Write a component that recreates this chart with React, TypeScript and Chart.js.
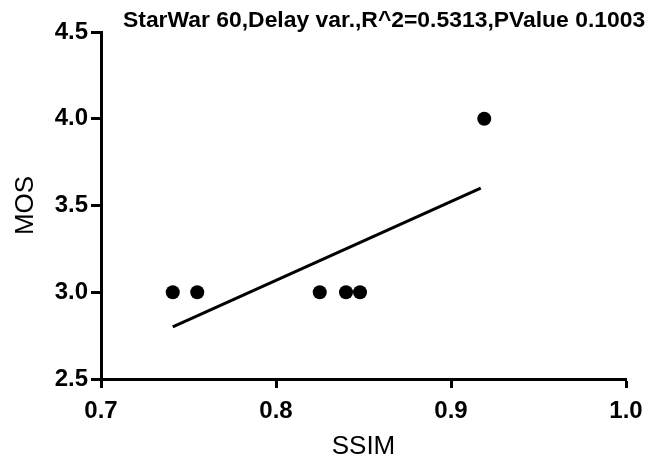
import React, { useEffect, useRef } from "react";
import { Chart, registerables } from "chart.js";

Chart.register(...registerables);

const titleText = "StarWar 60,Delay var.,R^2=0.5313,PValue 0.1003";
const xTitle = "SSIM";
const yTitle = "MOS";

const ssimValues = [0.741, 0.755, 0.825, 0.84, 0.848, 0.919];
const mosValues = [3.0, 3.0, 3.0, 3.0, 3.0, 4.0];

const fitX = [0.741, 0.917];
const fitY = [2.8, 3.6];

const xMin = 0.7;
const xMax = 1.0;
const xStep = 0.1;
const yMin = 2.5;
const yMax = 4.5;
const yStep = 0.5;

const tickFont = { family: "Liberation Sans", size: 24, weight: "bold" as const };
const axisTitleFont = { family: "Liberation Sans", size: 26, weight: "normal" as const };

const titlePlugin = {
  id: "topTitle",
  afterDraw(chart: any) {
    const { ctx, chartArea } = chart;
    ctx.save();
    ctx.fillStyle = "#000";
    ctx.font = "bold 22.9px 'Liberation Sans'";
    ctx.textAlign = "left";
    ctx.textBaseline = "alphabetic";
    ctx.fillText(titleText, chartArea.left + 22, chartArea.top - 5);
    ctx.restore();
  },
};

export default function App() {
  const ref = useRef<HTMLCanvasElement | null>(null);

  useEffect(() => {
    if (!ref.current) return;
    const chart = new Chart(ref.current, {
      type: "scatter",
      data: {
        datasets: [
          {
            label: "data",
            data: ssimValues.map((x, i) => ({ x, y: mosValues[i] })),
            backgroundColor: "#000",
            borderColor: "#000",
            pointRadius: 7,
            pointHoverRadius: 7,
            borderWidth: 0,
          },
          {
            type: "line" as any,
            label: "fit",
            data: fitX.map((x, i) => ({ x, y: fitY[i] })),
            borderColor: "#000",
            borderWidth: 3,
            pointRadius: 0,
            fill: false,
            showLine: true,
          } as any,
        ],
      },
      options: {
        responsive: false,
        animation: false,
        devicePixelRatio: 1,
        layout: { padding: { top: 32, right: 42, left: 0, bottom: 0 } },
        plugins: {
          legend: { display: false },
          tooltip: { enabled: false },
          title: { display: false },
        },
        scales: {
          x: {
            type: "linear",
            min: xMin,
            max: xMax,
            afterFit: (scale: any) => {
              scale.height = 84;
            },
            ticks: {
              stepSize: xStep,
              color: "#000",
              font: tickFont,
              padding: 9,
              maxRotation: 0,
              callback: (v: any) => Number(v).toFixed(1),
            },
            grid: {
              drawOnChartArea: false,
              drawTicks: true,
              tickLength: 9,
              tickWidth: 3,
              tickColor: "#000",
            },
            border: { display: true, color: "#000", width: 3 },
            title: {
              display: true,
              text: xTitle,
              color: "#000",
              font: axisTitleFont,
              padding: { top: 0, bottom: 1 },
            },
          },
          y: {
            type: "linear",
            min: yMin,
            max: yMax,
            afterFit: (scale: any) => {
              scale.width = 101;
            },
            ticks: {
              stepSize: yStep,
              color: "#000",
              font: tickFont,
              padding: 3,
              callback: (v: any) => Number(v).toFixed(1),
            },
            grid: {
              drawOnChartArea: false,
              drawTicks: true,
              tickLength: 10,
              tickWidth: 3,
              tickColor: "#000",
            },
            border: { display: true, color: "#000", width: 3 },
            title: {
              display: true,
              text: yTitle,
              color: "#000",
              font: axisTitleFont,
              padding: { top: 10, bottom: 0 },
            },
          },
        },
      },
      plugins: [titlePlugin],
    });
    return () => chart.destroy();
  }, []);

  return (
    <div style={{ position: "absolute", left: 0, top: 0, width: 668, height: 463, background: "#fff" }}>
      <canvas ref={ref} width={668} height={463} style={{ display: "block" }} />
    </div>
  );
}
